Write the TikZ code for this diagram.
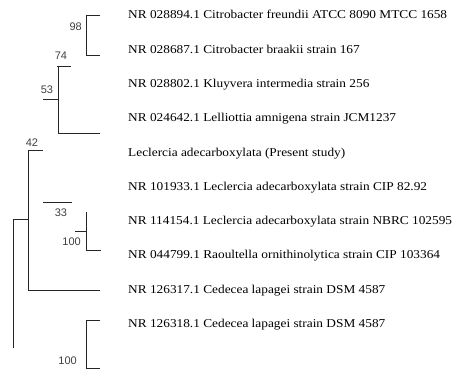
\documentclass[tikz,border=0pt]{standalone}
\usepackage{fontspec}
\setmainfont{Liberation Serif}
\newfontfamily\taxfont[FakeStretch=1.11]{Liberation Serif}
\newfontfamily\bootfont{Liberation Sans}
\begin{document}
\begin{tikzpicture}[x=1pt,y=-1pt,
  branch/.style={line width=1pt,draw=black!85},
  taxon/.style={anchor=base west,inner sep=0pt,font=\taxfont\fontsize{12}{14}\selectfont},
  boot/.style={inner sep=0pt,text=black!75,font=\bootfont\fontsize{11}{12}\selectfont}]
\useasboundingbox (0,0) rectangle (462,369);
% taxa
\node[taxon] (t1)  at (128,19)  {NR 028894.1 Citrobacter freundii ATCC 8090 MTCC 1658};
\node[taxon] (t2)  at (128,53)  {NR 028687.1 Citrobacter braakii strain 167};
\node[taxon] (t3)  at (128,87)  {NR 028802.1 Kluyvera intermedia strain 256};
\node[taxon] (t4)  at (128,121) {NR 024642.1 Lelliottia amnigena strain JCM1237};
\node[taxon] (t5)  at (128,156) {Leclercia adecarboxylata (Present study)};
\node[taxon] (t6)  at (128,190) {NR 101933.1 Leclercia adecarboxylata strain CIP 82.92};
\node[taxon] (t7)  at (128,224) {NR 114154.1 Leclercia adecarboxylata strain NBRC 102595};
\node[taxon] (t8)  at (128,258) {NR 044799.1 Raoultella ornithinolytica strain CIP 103364};
\node[taxon] (t9)  at (128,293) {NR 126317.1 Cedecea lapagei strain DSM 4587};
\node[taxon] (t10) at (128,327) {NR 126318.1 Cedecea lapagei strain DSM 4587};
% branches
\draw[branch] (100,16) -- (86,16) -- (86,55) -- (100,55);
\draw[branch] (57,66) -- (71,66);
\draw[branch] (58,66) -- (58,133) -- (100,133);
\draw[branch] (43,99) -- (58,99);
\draw[branch] (28,150) -- (43,150);
\draw[branch] (28,150) -- (28,290) -- (100,290);
\draw[branch] (13,219) -- (28,219);
\draw[branch] (13,219) -- (13,348);
\draw[branch] (43,202) -- (72,202);
\draw[branch] (86,212) -- (86,250) -- (101,250);
\draw[branch] (75,231) -- (86,231);
\draw[branch] (100,320) -- (86,320) -- (86,368) -- (100,368);
% bootstrap values
\node[boot,anchor=east] (b98) at (82,27) {98};
\node[boot] (b74) at (61,56) {74};
\node[boot] (b53) at (47,90) {53};
\node[boot] (b42) at (32,143) {42};
\node[boot] (b33) at (61,213) {33};
\node[boot,anchor=east] (b100a) at (81,242) {100};
\node[boot,anchor=east] (b100b) at (77,361) {100};
\end{tikzpicture}
\end{document}
